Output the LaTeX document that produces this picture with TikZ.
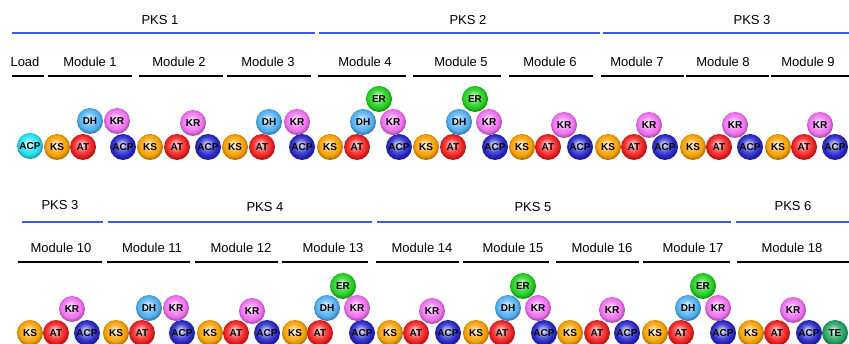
\documentclass[tikz,border=0pt]{standalone}
\usepackage{fontspec}
\setmainfont{Liberation Sans}
\pgfdeclareradialshading[ballc]{glossy}{\pgfpoint{-3bp}{5bp}}{%
  color(0bp)=(ballc!5!white);
  color(5bp)=(ballc!35!white);
  color(13bp)=(ballc!80!white);
  color(20bp)=(ballc);
  color(26bp)=(ballc!68!black);
  color(50bp)=(ballc!55!black)}
\definecolor{cKS}{HTML}{F5A000}
\definecolor{cAT}{HTML}{F02020}
\definecolor{cDH}{HTML}{50B0F0}
\definecolor{cKR}{HTML}{F070F0}
\definecolor{cER}{HTML}{20D020}
\definecolor{cACP}{HTML}{2828C8}
\definecolor{cLD}{HTML}{20E0F0}
\definecolor{cTE}{HTML}{20A060}
\definecolor{pksblue}{HTML}{3858F0}
\tikzset{
  glossy color/.code={\colorlet{ballc}{#1}},
  dom/.style={circle, minimum size=26pt, inner sep=0pt, shading=glossy, glossy color=#1,
    text=black, font=\fontsize{10}{10}\selectfont\bfseries},
  dKS/.style={dom=cKS}, dAT/.style={dom=cAT}, dDH/.style={dom=cDH},
  dKR/.style={dom=cKR}, dER/.style={dom=cER}, dACP/.style={dom=cACP},
  dLD/.style={dom=cLD}, dTE/.style={dom=cTE},
  lbl/.style={font=\fontsize{13}{13}\selectfont, inner sep=0pt, text=black},
  pksbar/.style={draw=pksblue, line width=1.8pt},
  modbar/.style={draw=black, line width=1.8pt}
}
\begin{document}
\begin{tikzpicture}[x=1pt,y=-1pt]
\useasboundingbox (0,0) rectangle (849,344);
% ---------- Row 1 headers ----------
\node[lbl] (pks1) at (160,20) {PKS 1};
\node[lbl] (pks2) at (468,20) {PKS 2};
\node[lbl] (pks3) at (752,20) {PKS 3};
\draw[pksbar] (12,33) -- (315,33);
\draw[pksbar] (319,33) -- (600,33);
\draw[pksbar] (603,33) -- (849,33);
\node[lbl] (lload) at (25,62) {Load};
\node[lbl] (lm1) at (90,62) {Module 1};
\node[lbl] (lm2) at (179,62) {Module 2};
\node[lbl] (lm3) at (268,62) {Module 3};
\node[lbl] (lm4) at (365,62) {Module 4};
\node[lbl] (lm5) at (461,62) {Module 5};
\node[lbl] (lm6) at (550,62) {Module 6};
\node[lbl] (lm7) at (637,62) {Module 7};
\node[lbl] (lm8) at (723,62) {Module 8};
\node[lbl] (lm9) at (808,62) {Module 9};
\draw[modbar] (12,76) -- (44,76);
\draw[modbar] (48,76) -- (132,76);
\draw[modbar] (139,76) -- (223,76);
\draw[modbar] (227,76) -- (311,76);
\draw[modbar] (318,76) -- (406,76);
\draw[modbar] (413,76) -- (501,76);
\draw[modbar] (509,76) -- (593,76);
\draw[modbar] (601,76) -- (684,76);
\draw[modbar] (686,76) -- (769,76);
\draw[modbar] (771,76) -- (849,76);
% ---------- Row 1 domains ----------
\node[dLD] (l-acp) at (30,146) {ACP};
% Module 1
\node[dKS] (m1ks) at (57,147) {KS};
\node[dAT] (m1at) at (83,147) {AT};
\node[dACP] (m1acp) at (123,147) {ACP};
\node[dDH] (m1dh) at (90,121) {DH};
\node[dKR] (m1kr) at (117,121) {KR};
% Module 2
\node[dKS] (m2ks) at (150,147) {KS};
\node[dAT] (m2at) at (177,147) {AT};
\node[dACP] (m2acp) at (208,147) {ACP};
\node[dKR] (m2kr) at (193,123) {KR};
% Module 3
\node[dKS] (m3ks) at (235,147) {KS};
\node[dAT] (m3at) at (262,147) {AT};
\node[dACP] (m3acp) at (302,147) {ACP};
\node[dDH] (m3dh) at (269,122) {DH};
\node[dKR] (m3kr) at (297,122) {KR};
% Module 4
\node[dKS] (m4ks) at (330,147) {KS};
\node[dAT] (m4at) at (357,147) {AT};
\node[dACP] (m4acp) at (399,147) {ACP};
\node[dDH] (m4dh) at (363,122) {DH};
\node[dKR] (m4kr) at (393,122) {KR};
\node[dER] (m4er) at (379,99) {ER};
% Module 5
\node[dKS] (m5ks) at (426,147) {KS};
\node[dAT] (m5at) at (453,147) {AT};
\node[dACP] (m5acp) at (495,147) {ACP};
\node[dDH] (m5dh) at (459,122) {DH};
\node[dKR] (m5kr) at (489,122) {KR};
\node[dER] (m5er) at (475,99) {ER};
% Module 6
\node[dKS] (m6ks) at (522,147) {KS};
\node[dAT] (m6at) at (548,147) {AT};
\node[dACP] (m6acp) at (580,147) {ACP};
\node[dKR] (m6kr) at (564,125) {KR};
% Module 7
\node[dKS] (m7ks) at (608,147) {KS};
\node[dAT] (m7at) at (634,147) {AT};
\node[dACP] (m7acp) at (665,147) {ACP};
\node[dKR] (m7kr) at (649,125) {KR};
% Module 8
\node[dKS] (m8ks) at (693,147) {KS};
\node[dAT] (m8at) at (719,147) {AT};
\node[dACP] (m8acp) at (750,147) {ACP};
\node[dKR] (m8kr) at (735,125) {KR};
% Module 9
\node[dKS] (m9ks) at (778,147) {KS};
\node[dAT] (m9at) at (804,147) {AT};
\node[dACP] (m9acp) at (835,147) {ACP};
\node[dKR] (m9kr) at (820,125) {KR};
% ---------- Row 2 headers ----------
\node[lbl] (pks3b) at (60,205) {PKS 3};
\node[lbl] (pks4) at (265,207) {PKS 4};
\node[lbl] (pks5) at (533,207) {PKS 5};
\node[lbl] (pks6) at (793,206) {PKS 6};
\draw[pksbar] (22,222) -- (103,222);
\draw[pksbar] (108,222) -- (372,222);
\draw[pksbar] (377,222) -- (731,222);
\draw[pksbar] (736,222) -- (849,222);
\node[lbl] (lm10) at (61,248) {Module 10};
\node[lbl] (lm11) at (152,248) {Module 11};
\node[lbl] (lm12) at (241,248) {Module 12};
\node[lbl] (lm13) at (333,248) {Module 13};
\node[lbl] (lm14) at (422,248) {Module 14};
\node[lbl] (lm15) at (513,248) {Module 15};
\node[lbl] (lm16) at (602,248) {Module 16};
\node[lbl] (lm17) at (693,248) {Module 17};
\node[lbl] (lm18) at (792,248) {Module 18};
\draw[modbar] (18,262) -- (102,262);
\draw[modbar] (107,262) -- (190,262);
\draw[modbar] (195,262) -- (278,262);
\draw[modbar] (282,262) -- (368,262);
\draw[modbar] (376,262) -- (459,262);
\draw[modbar] (463,262) -- (549,262);
\draw[modbar] (556,262) -- (639,262);
\draw[modbar] (643,262) -- (730,262);
\draw[modbar] (737,262) -- (849,262);
% ---------- Row 2 domains ----------
% Module 10
\node[dKS] (m10ks) at (30,333) {KS};
\node[dAT] (m10at) at (56,333) {AT};
\node[dACP] (m10acp) at (87,333) {ACP};
\node[dKR] (m10kr) at (72,309) {KR};
% Module 11
\node[dKS] (m11ks) at (116,333) {KS};
\node[dAT] (m11at) at (142,333) {AT};
\node[dACP] (m11acp) at (182,333) {ACP};
\node[dDH] (m11dh) at (149,308) {DH};
\node[dKR] (m11kr) at (176,308) {KR};
% Module 12
\node[dKS] (m12ks) at (210,333) {KS};
\node[dAT] (m12at) at (236,333) {AT};
\node[dACP] (m12acp) at (267,333) {ACP};
\node[dKR] (m12kr) at (252,311) {KR};
% Module 13
\node[dKS] (m13ks) at (295,333) {KS};
\node[dAT] (m13at) at (320,333) {AT};
\node[dACP] (m13acp) at (362,333) {ACP};
\node[dDH] (m13dh) at (327,308) {DH};
\node[dKR] (m13kr) at (357,308) {KR};
\node[dER] (m13er) at (343,286) {ER};
% Module 14
\node[dKS] (m14ks) at (390,333) {KS};
\node[dAT] (m14at) at (416,333) {AT};
\node[dACP] (m14acp) at (448,333) {ACP};
\node[dKR] (m14kr) at (432,311) {KR};
% Module 15
\node[dKS] (m15ks) at (476,333) {KS};
\node[dAT] (m15at) at (502,333) {AT};
\node[dACP] (m15acp) at (544,333) {ACP};
\node[dDH] (m15dh) at (508,308) {DH};
\node[dKR] (m15kr) at (538,308) {KR};
\node[dER] (m15er) at (523,286) {ER};
% Module 16
\node[dKS] (m16ks) at (570,333) {KS};
\node[dAT] (m16at) at (597,333) {AT};
\node[dACP] (m16acp) at (627,333) {ACP};
\node[dKR] (m16kr) at (612,310) {KR};
% Module 17
\node[dKS] (m17ks) at (655,333) {KS};
\node[dAT] (m17at) at (681,333) {AT};
\node[dACP] (m17acp) at (723,333) {ACP};
\node[dDH] (m17dh) at (688,308) {DH};
\node[dKR] (m17kr) at (718,308) {KR};
\node[dER] (m17er) at (703,286) {ER};
% Module 18
\node[dKS] (m18ks) at (751,333) {KS};
\node[dAT] (m18at) at (777,333) {AT};
\node[dACP] (m18acp) at (809,333) {ACP};
\node[dTE] (m18te) at (835,333) {TE};
\node[dKR] (m18kr) at (793,310) {KR};
\end{tikzpicture}
\end{document}
